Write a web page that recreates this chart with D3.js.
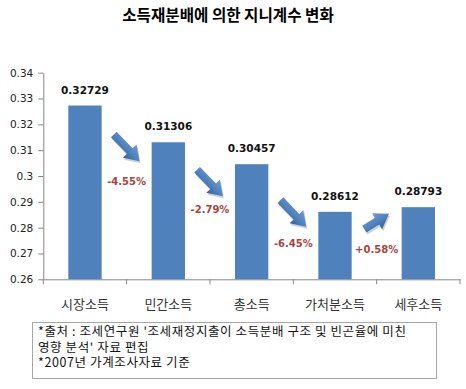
<!DOCTYPE html>
<html>
<head>
<meta charset="utf-8">
<script src="https://cdn.jsdelivr.net/npm/d3@7"></script>
<style>
  body { margin: 0; background: #fff; }
  svg { display: block; }
</style>
</head>
<body>
<div id="chart_div"></div>
<script>
// data
var categories = ["시장소득", "민간소득", "총소득", "가처분소득", "세후소득"];
var gini = [0.32729, 0.31306, 0.30457, 0.28612, 0.28793];
var changes = ["-4.55%", "-2.79%", "-6.45%", "+0.58%"];
var yTicks = [0.26, 0.27, 0.28, 0.29, 0.3, 0.31, 0.32, 0.33, 0.34];
var title = "소득재분배에 의한 지니계수 변화";
var notes = ["*출처 : 조세연구원 '조세재정지출이 소득분배 구조 및 빈곤율에 미친",
             "영향 분석' 자료 편집",
             "*2007년  가계조사자료 기준"];

// where the arrows / change labels sit (in gini units)
var arrowLevel = [0.3109, 0.2973, 0.2855, 0.2824];
var labelLevel = [0.2965, 0.2857, 0.2725, 0.2703];

var W = 466, H = 389;
var margin = {top: 72.7, right: 6, bottom: 109.7, left: 43.3},
    width = W - margin.left - margin.right,
    height = H - margin.top - margin.bottom;

var x = d3.scaleBand()
    .domain(categories)
    .range([0, width])
    .paddingInner(0.6)
    .paddingOuter(0.3);
var y = d3.scaleLinear()
    .domain([0.26, 0.34])
    .range([height, 0]);

var svg = d3.select("#chart_div").append("svg")
    .attr("width", W)
    .attr("height", H);

var defs = svg.append("defs");
var grad = defs.append("linearGradient")
    .attr("id", "arrowGrad")
    .attr("x1", 0).attr("y1", 0).attr("x2", 0).attr("y2", 1);
grad.append("stop").attr("offset", "0%").attr("stop-color", "#6f9bd3");
grad.append("stop").attr("offset", "55%").attr("stop-color", "#4f81bd");
grad.append("stop").attr("offset", "100%").attr("stop-color", "#385f90");

// title
svg.append("text")
    .attr("x", 228)
    .attr("y", 20.5)
    .attr("text-anchor", "middle")
    .style("font-family", "'Noto Sans CJK KR'")
    .style("font-weight", "bold")
    .style("font-size", "15.6px")
    .text(title);

var g = svg.append("g")
    .attr("transform", "translate(" + margin.left + "," + margin.top + ")");

// bars
g.selectAll(".bar")
    .data(gini)
    .enter().append("rect")
    .attr("class", "bar")
    .attr("x", function(d, i) { return x(categories[i]); })
    .attr("width", x.bandwidth())
    .attr("y", function(d) { return y(d); })
    .attr("height", function(d) { return height - y(d); })
    .attr("fill", "#4f81bd");

// value labels
g.selectAll(".val")
    .data(gini)
    .enter().append("text")
    .attr("class", "val")
    .attr("x", function(d, i) { return x(categories[i]) + x.bandwidth() / 2; })
    .attr("y", function(d) { return y(d) - 12; })
    .attr("text-anchor", "middle")
    .style("font-family", "'DejaVu Sans'")
    .style("font-weight", "bold")
    .style("font-size", "10.5px")
    .style("fill", "#111")
    .text(function(d) { return d; });

// y axis
var yAxis = g.append("g")
    .call(d3.axisLeft(y)
        .tickValues(yTicks)
        .tickSize(5)
        .tickSizeOuter(0)
        .tickPadding(5)
        .tickFormat(function(d) { return String(+d.toFixed(2)); }));
yAxis.selectAll("path, line").attr("stroke", "#868686");
yAxis.selectAll("text")
    .style("font-family", "'DejaVu Sans'")
    .style("font-size", "10.5px")
    .style("fill", "#222");

// x axis
var xAxis = g.append("g")
    .attr("transform", "translate(0," + height + ")")
    .call(d3.axisBottom(x).tickSize(0).tickSizeOuter(0).tickPadding(20));
xAxis.select("path").attr("stroke", "#868686");
xAxis.selectAll("text")
    .style("font-family", "'Noto Sans CJK KR'")
    .style("font-size", "13px")
    .style("fill", "#333");

// boundary ticks between categories
var bounds = d3.range(categories.length + 1).map(function(k) { return k * x.step(); });
xAxis.selectAll(".btick")
    .data(bounds)
    .enter().append("line")
    .attr("class", "btick")
    .attr("x1", function(d) { return d; })
    .attr("x2", function(d) { return d; })
    .attr("y1", 0)
    .attr("y2", 5)
    .attr("stroke", "#868686");

// arrows + change labels
function arrowPath(len) {
    var sw = 4, hl = 14, hw = 9.5;
    var s = -len / 2, e = len / 2;
    return "M" + s + "," + (-sw) + "L" + (e - hl) + "," + (-sw) + "L" + (e - hl) + "," + (-hw) +
        "L" + e + ",0L" + (e - hl) + "," + hw + "L" + (e - hl) + "," + sw + "L" + s + "," + sw + "Z";
}

changes.forEach(function(c, i) {
    var cx = (i + 1) * x.step();
    var down = gini[i + 1] < gini[i];
    var ang = down ? 46 : -32;
    var len = down ? 37 : 29;
    g.append("path")
        .attr("d", arrowPath(len))
        .attr("transform", "translate(" + (cx + 1) + "," + (y(arrowLevel[i]) + 2) + ") rotate(" + ang + ")")
        .attr("fill", "#8ea3bd")
        .attr("opacity", 0.5);
    g.append("path")
        .attr("d", arrowPath(len))
        .attr("transform", "translate(" + cx + "," + y(arrowLevel[i]) + ") rotate(" + ang + ")")
        .attr("fill", "url(#arrowGrad)");
    g.append("text")
        .attr("x", cx)
        .attr("y", y(labelLevel[i]))
        .attr("text-anchor", "middle")
        .style("font-family", "'DejaVu Sans'")
        .style("font-weight", "bold")
        .style("font-size", "10px")
        .style("fill", "#a84440")
        .text(c);
});

// note box
svg.append("rect")
    .attr("x", 32.5)
    .attr("y", 322.5)
    .attr("width", 404)
    .attr("height", 56)
    .attr("fill", "#fff")
    .attr("stroke", "#a6a6a6");

svg.selectAll(".note")
    .data(notes)
    .enter().append("text")
    .attr("class", "note")
    .attr("x", 38)
    .attr("y", function(d, i) { return 336 + i * 15.5; })
    .style("font-family", "'Noto Sans CJK KR'")
    .style("font-size", "12.5px")
    .style("letter-spacing", "0.6px")
    .style("fill", "#111")
    .text(function(d) { return d; });
</script>
</body>
</html>
